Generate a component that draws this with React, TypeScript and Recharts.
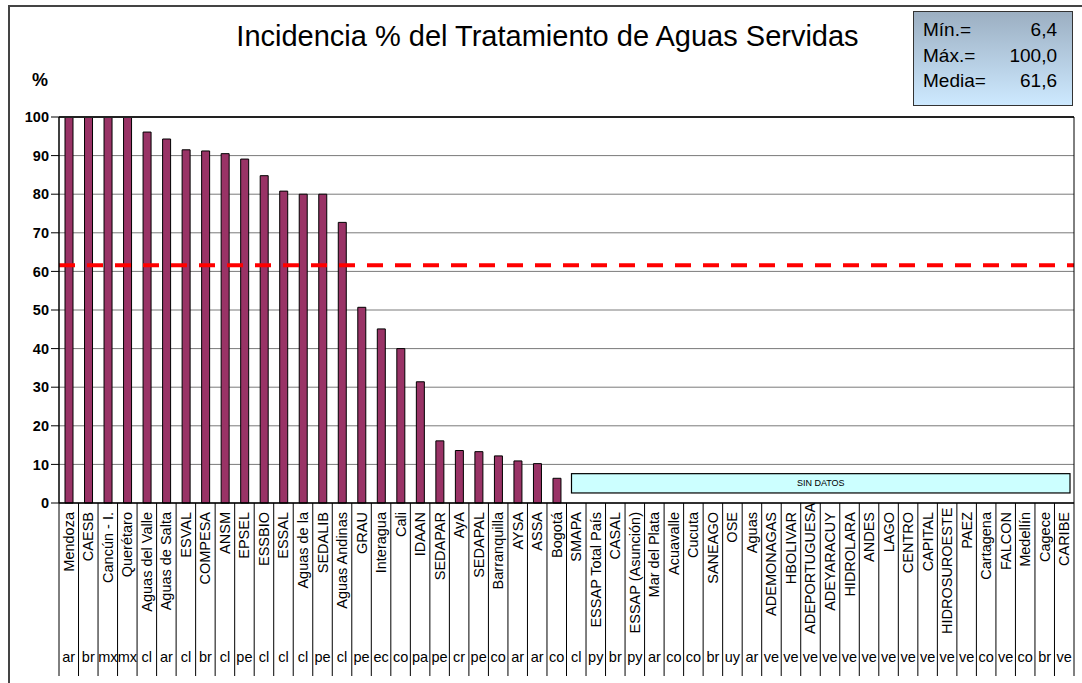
import { BarChart, Bar, XAxis, YAxis, CartesianGrid, ReferenceLine, ReferenceArea } from 'recharts';

const names = [
  'Mendoza', 'CAESB', 'Cancún - I.', 'Querétaro', 'Aguas del Valle', 'Aguas de Salta', 'ESVAL', 'COMPESA',
  'ANSM', 'EPSEL', 'ESSBIO', 'ESSAL', 'Aguas de la', 'SEDALIB', 'Aguas Andinas', 'GRAU', 'Interagua', 'Cali',
  'IDAAN', 'SEDAPAR', 'AyA', 'SEDAPAL', 'Barranquilla', 'AYSA', 'ASSA', 'Bogotá', 'SMAPA', 'ESSAP Total País',
  'CASAL', 'ESSAP (Asunción)', 'Mar del Plata', 'Acuavalle', 'Cucuta', 'SANEAGO', 'OSE', 'Aguas', 'ADEMONAGAS',
  'HBOLIVAR', 'ADEPORTUGUESA', 'ADEYARACUY', 'HIDROLARA', 'ANDES', 'LAGO', 'CENTRO', 'CAPITAL', 'HIDROSUROESTE',
  'PAEZ', 'Cartagena', 'FALCON', 'Medellín', 'Cagece', 'CARIBE',
];

const countries = [
  'ar', 'br', 'mx', 'mx', 'cl', 'ar', 'cl', 'br', 'cl', 'pe', 'cl', 'cl', 'cl', 'pe', 'cl', 'pe', 'ec', 'co',
  'pa', 'pe', 'cr', 'pe', 'co', 'ar', 'ar', 'co', 'cl', 'py', 'br', 'py', 'ar', 'co', 'co', 'br', 'uy', 'ar',
  've', 've', 've', 've', 've', 've', 've', 've', 've', 've', 've', 'co', 've', 'co', 'br', 've',
];

const values: (number | null)[] = [
  100, 100, 100, 100, 96.1, 94.3, 91.5, 91.2, 90.5, 89.1, 84.8, 80.8, 80.0, 80.0, 72.7, 50.7, 45.1, 40.0,
  31.4, 16.1, 13.6, 13.3, 12.2, 10.9, 10.2, 6.4, null, null, null, null, null, null, null, null, null, null,
  null, null, null, null, null, null, null, null, null, null, null, null, null, null, null, null,
];

const yTicks = [0, 10, 20, 30, 40, 50, 60, 70, 80, 90, 100];
const mean = 61.6;
const noDataBand = [2.6, 7.6];
const stats = [
  ['Mín.=', '6,4'],
  ['Máx.=', '100,0'],
  ['Media=', '61,6'],
];

const data = names.map((name, i) => ({ name, country: countries[i], value: values[i] }));

const FONT = '"Liberation Sans", Arial, sans-serif';
const W = 1082;
const H = 683;
const LEFT = 59;
const RIGHT = 8;
const TOP = 117;
const XAXIS_H = 180;
const PLOT_BOTTOM = H - XAXIS_H;
const BAND = (W - LEFT - RIGHT) / names.length;
const CELL_BOTTOM = 676;

let ctx: CanvasRenderingContext2D | null = null;
function textWidth(s: string) {
  if (!ctx) ctx = document.createElement('canvas').getContext('2d');
  if (!ctx) return s.length * 8;
  ctx.font = `14.5px ${FONT}`;
  return ctx.measureText(s).width;
}

function NameTick(props: any) {
  const { x, payload, index } = props;
  const i = index ?? payload.index;
  const label = names[i];
  // long labels get pushed up so they stay clear of the country row
  const endY = Math.min(512, 634 - textWidth(label));
  return (
    <g>
      <line x1={x - BAND / 2} x2={x - BAND / 2} y1={PLOT_BOTTOM} y2={CELL_BOTTOM} stroke="#000" />
      {i === names.length - 1 && (
        <line x1={x + BAND / 2} x2={x + BAND / 2} y1={TOP} y2={CELL_BOTTOM} stroke="#000" />
      )}
      <text
        transform={`translate(${x + 5},${endY}) rotate(-90)`}
        textAnchor="end"
        fontSize={14.5}
        fontFamily={FONT}
        fill="#000"
      >
        {label}
      </text>
      <text x={x} y={662} textAnchor="middle" fontSize={14.5} fontFamily={FONT} fill="#000">
        {countries[i]}
      </text>
    </g>
  );
}

function NoDataBox(props: any) {
  const { x, y, width, height } = props;
  const bx = x + 5;
  const bw = width - 9;
  return (
    <g>
      <rect x={bx} y={y} width={bw} height={height} fill="#ccffff" stroke="#000" strokeWidth={1.2} />
      <text x={bx + bw / 2} y={y + height / 2 + 3} textAnchor="middle" fontSize={9} fontFamily={FONT} fill="#000">
        SIN DATOS
      </text>
    </g>
  );
}

export default function App() {
  return (
    <div style={{ position: 'relative', width: W, height: H, overflow: 'hidden', background: '#fff', fontFamily: FONT }}>
      <style>{'body{margin:0}'}</style>
      <div
        style={{
          position: 'absolute',
          left: 8,
          top: 5,
          width: W,
          height: H + 20,
          border: '2px solid #444',
          boxSizing: 'border-box',
        }}
      />
      <div
        style={{
          position: 'absolute',
          left: 0,
          width: 1095,
          top: 20,
          textAlign: 'center',
          fontSize: 29,
          color: '#000',
          whiteSpace: 'nowrap',
        }}
      >
        Incidencia % del Tratamiento de Aguas Servidas
      </div>
      <div style={{ position: 'absolute', left: 32, top: 70, fontSize: 18, fontWeight: 'bold' }}>%</div>
      <div
        style={{
          position: 'absolute',
          left: 913,
          top: 11,
          width: 160,
          height: 95,
          boxSizing: 'border-box',
          border: '1px solid #333',
          background: 'linear-gradient(to bottom, #9cafc2, #cde9ff)',
          padding: '5px 15px 0 9px',
          fontSize: 19,
          lineHeight: '25.5px',
        }}
      >
        {stats.map(([k, v]) => (
          <div key={k} style={{ display: 'flex', justifyContent: 'space-between' }}>
            <span>{k}</span>
            <span>{v}</span>
          </div>
        ))}
      </div>
      <div style={{ position: 'absolute', left: 0, top: 0 }}>
        <BarChart width={W} height={H} data={data} margin={{ top: TOP, right: RIGHT, left: 0, bottom: 0 }} barCategoryGap={0}>
          <CartesianGrid vertical={false} stroke="#7a7a7a" />
          <XAxis
            dataKey="name"
            interval={0}
            height={XAXIS_H}
            tickLine={false}
            axisLine={{ stroke: '#000', strokeWidth: 1.5 }}
            tick={<NameTick />}
          />
          <YAxis
            width={LEFT}
            domain={[0, 100]}
            ticks={yTicks}
            interval={0}
            tickSize={8}
            tickLine={{ stroke: '#000' }}
            axisLine={{ stroke: '#000', strokeWidth: 1.5 }}
            tick={{ fontSize: 14.5, fontWeight: 'bold', fill: '#000', fontFamily: FONT }}
          />
          <ReferenceLine y={100} stroke="#222" strokeWidth={2} />
          <ReferenceArea x1={names[26]} x2={names[51]} y1={noDataBand[0]} y2={noDataBand[1]} shape={<NoDataBox />} />
          <Bar dataKey="value" fill="#993366" stroke="#000" strokeWidth={1} barSize={8} isAnimationActive={false} />
          <ReferenceLine y={mean} stroke="#ff0000" strokeWidth={4} strokeDasharray="16 12" />
        </BarChart>
      </div>
    </div>
  );
}
